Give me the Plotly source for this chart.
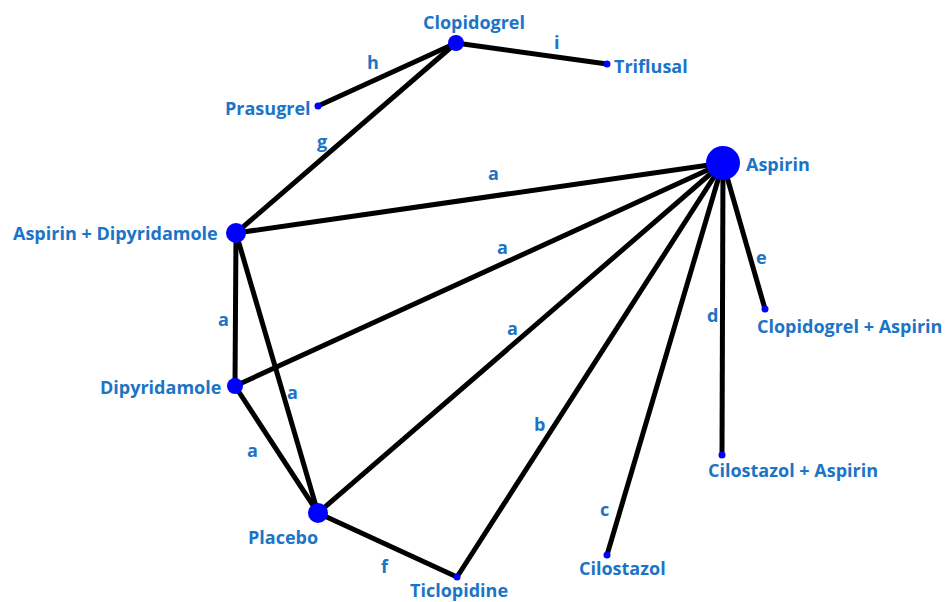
import plotly.graph_objects as go

# ---- data: network layout (node positions in layout units) ----
nodes = ["Clopidogrel", "Triflusal", "Prasugrel", "Aspirin", "Aspirin + Dipyridamole",
         "Clopidogrel + Aspirin", "Dipyridamole", "Cilostazol + Aspirin", "Placebo",
         "Ticlopidine", "Cilostazol"]
node_x = [456, 607, 318, 723, 236, 765, 235, 722, 318, 457, 607]
node_y = [43, 64, 106, 163, 233, 309, 386, 455, 513, 577, 555]
node_weight = [3, 1, 1, 6, 4, 1, 3, 1, 4, 1, 1]

edge_from = ["Clopidogrel", "Clopidogrel", "Clopidogrel", "Aspirin", "Aspirin", "Aspirin",
             "Aspirin", "Aspirin", "Aspirin", "Aspirin", "Aspirin + Dipyridamole",
             "Aspirin + Dipyridamole", "Dipyridamole", "Placebo"]
edge_to = ["Triflusal", "Prasugrel", "Aspirin + Dipyridamole", "Aspirin + Dipyridamole",
           "Dipyridamole", "Placebo", "Ticlopidine", "Cilostazol", "Cilostazol + Aspirin",
           "Clopidogrel + Aspirin", "Dipyridamole", "Placebo", "Placebo", "Ticlopidine"]
edge_label = ["i", "h", "g", "a", "a", "a", "b", "c", "d", "e", "a", "a", "a", "f"]

# ---- styles ----
LABEL_COLOR = "#1b74c6"
FONT = "Open Sans"
FS = 18
size_map = {1: 7, 3: 16, 4: 20, 6: 34}
# node label placement: (xanchor, xshift, yshift)
node_label_style = {
    "Clopidogrel": ("center", 18, 21),
    "Triflusal": ("left", 5, -2),
    "Prasugrel": ("right", -5, -2),
    "Aspirin": ("left", 21, -1),
    "Aspirin + Dipyridamole": ("right", -16, 0),
    "Clopidogrel + Aspirin": ("left", -10, -17),
    "Dipyridamole": ("right", -12, -1),
    "Cilostazol + Aspirin": ("left", -16, -15),
    "Placebo": ("center", -35, -24),
    "Ticlopidine": ("center", 2, -13),
    "Cilostazol": ("center", 15, -13),
}
# edge label placement: (fraction along edge, dx, dy) in pixels
edge_label_style = [
    (0.67, 0, -15), (0.6, 0, -19), (0.516, -20, 0), (0.472, 0, -23), (0.452, 0, -17),
    (0.519, 0, -17), (0.63, -16, 0), (0.883, -16, 0), (0.52, -10, 0), (0.644, 11, 0),
    (0.56, -12, 0), (0.568, 10, 0), (0.5, -24, 0), (0.48, 0, 22),
]

idx = {n: i for i, n in enumerate(nodes)}
fig = go.Figure()

for a, b in zip(edge_from, edge_to):
    fig.add_trace(go.Scatter(
        x=[node_x[idx[a]], node_x[idx[b]]], y=[node_y[idx[a]], node_y[idx[b]]],
        mode="lines", line=dict(color="black", width=5), hoverinfo="skip",
        showlegend=False))

fig.add_trace(go.Scatter(
    x=node_x, y=node_y, mode="markers",
    marker=dict(color="#0000ff", opacity=1, size=[size_map[w] for w in node_weight],
                line=dict(width=0)),
    text=nodes, hoverinfo="text", showlegend=False))

for n in nodes:
    xa, xs, ys = node_label_style[n]
    fig.add_annotation(x=node_x[idx[n]], y=node_y[idx[n]], text="<b>%s</b>" % n,
                       showarrow=False, xanchor=xa, yanchor="middle",
                       xshift=xs, yshift=ys,
                       font=dict(family=FONT, size=FS, color=LABEL_COLOR))

for (a, b, lab), (t, dx, dy) in zip(zip(edge_from, edge_to, edge_label), edge_label_style):
    xa_, ya_ = node_x[idx[a]], node_y[idx[a]]
    xb_, yb_ = node_x[idx[b]], node_y[idx[b]]
    fig.add_annotation(x=xa_ + t * (xb_ - xa_), y=ya_ + t * (yb_ - ya_),
                       text="<b>%s</b>" % lab, showarrow=False,
                       xanchor="center", yanchor="middle", xshift=dx, yshift=-dy,
                       font=dict(family=FONT, size=FS, color=LABEL_COLOR))

# page body has an 8px margin: the figure starts at page pixel (8, 8)
fig.update_layout(
    width=935, height=594, margin=dict(l=0, r=0, t=0, b=0),
    plot_bgcolor="white", paper_bgcolor="white",
    xaxis=dict(range=[8, 943], visible=False, fixedrange=True),
    yaxis=dict(range=[602, 8], visible=False, fixedrange=True),
)
fig.write_html("out.html")
